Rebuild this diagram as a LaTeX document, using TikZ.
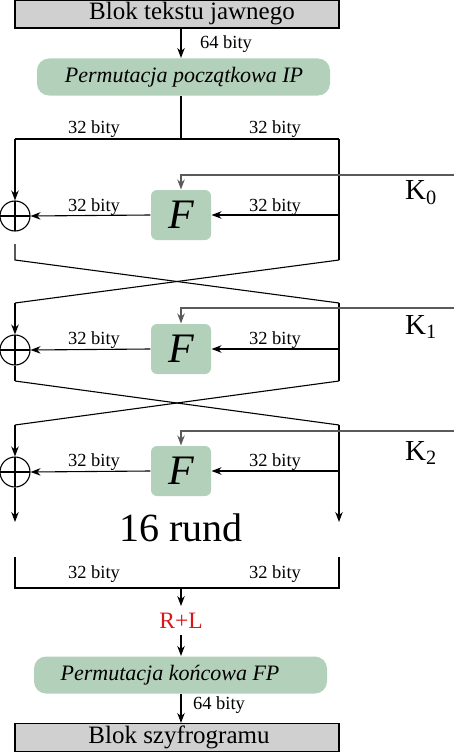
\documentclass[tikz,border=0pt]{standalone}
\usepackage{fontspec}
\setmainfont{Liberation Serif}
\usetikzlibrary{arrows.meta}
\definecolor{boxgreen}{HTML}{B3D0BA}
\definecolor{boxgray}{HTML}{D0D0D0}
\definecolor{keygray}{HTML}{5A5A5A}
\definecolor{rlred}{HTML}{D81818}
\begin{document}
\begin{tikzpicture}[x=1pt,y=-1pt, line width=1.1pt, >={Stealth[length=10pt,width=7.5pt]},
  graybox/.style={draw, fill=boxgray, minimum width=324pt, minimum height=28pt, inner sep=0pt},
  permbox/.style={fill=boxgreen, rounded corners=12pt, minimum width=293pt, minimum height=37pt, inner sep=0pt},
  fbox/.style={fill=boxgreen, rounded corners=6pt, minimum width=60pt, minimum height=50pt, inner sep=0pt, font=\fontsize{42}{46}\selectfont\itshape},
  xor/.style={circle, draw, minimum size=30pt, inner sep=0pt,
    path picture={\draw (path picture bounding box.north) -- (path picture bounding box.south)
      (path picture bounding box.west) -- (path picture bounding box.east);}},
  bigtxt/.style={font=\fontsize{25}{28}\selectfont, inner sep=0pt},
  permtxt/.style={font=\fontsize{22}{25}\selectfont\itshape, inner sep=0pt},
  lbl/.style={font=\fontsize{18.5}{20}\selectfont, inner sep=0pt},
  keytxt/.style={font=\fontsize{29}{32}\selectfont, inner sep=0pt},
  keyl/.style={draw=keygray},
  ]
\useasboundingbox (0,0) rectangle (454,752);
\coordinate (cx) at (181,0);
% top
\node[graybox] (plain) at (177,14) {};
\node[bigtxt] (plaintxt) at (192,14) {Blok tekstu jawnego};
\node[permbox] (ip) at (183.5,77) {};
\node[permtxt] (iptxt) at (184,77) {Permutacja początkowa IP};
\draw[->] (plain.south -| cx) -- (ip.north -| cx);
\node[lbl] (l64a) at (226,44) {64 bity};
\coordinate (tl) at (15,139);
\coordinate (tr) at (339,139);
\draw (ip.south -| cx) -- (cx |- tl);
\draw (tl) -- (tr);
\node[lbl] at (94,129) {32 bity};
\node[lbl] at (275,129) {32 bity};
% round 1
\node[xor] (x1) at (15,216) {};
\node[fbox] (f1) at (181,215) {F};
\coordinate (k1) at (454,175);
\coordinate (a1s) at (15,244);
\coordinate (a1) at (15,260);
\coordinate (b1) at (339,260);
\coordinate (a2) at (15,303);
\coordinate (b2) at (339,303);
\draw[->] (tl) -- (x1.north);
\draw (tr) -- (b1);
\draw[->] (tr |- f1) -- (f1.east);
\draw[->] (f1.west) -- (x1.east);
\draw[->, keyl] (k1) -- (f1.north |- k1) -- (f1.north);
\node[keytxt] (kt0) at (421,193) {K\textsubscript{0}};
\node[lbl] at (94,207) {32 bity};
\node[lbl] at (275,207) {32 bity};
\draw (a1s) -- (a1) -- (b2);
\draw (b1) -- (a2);
% round 2
\node[xor] (x2) at (15,350) {};
\node[fbox] (f2) at (181,349) {F};
\coordinate (k2) at (454,308);
\coordinate (a2e) at (15,381);
\coordinate (b2e) at (339,381);
\coordinate (a3) at (15,425);
\coordinate (b3) at (339,425);
\draw[->] (a2) -- (x2.north);
\draw (x2.south) -- (a2e);
\draw (b2) -- (b2e);
\draw[->] (b2 |- f2) -- (f2.east);
\draw[->] (f2.west) -- (x2.east);
\draw[->, keyl] (k2) -- (f2.north |- k2) -- (f2.north);
\node[keytxt] (kt1) at (421,327) {K\textsubscript{1}};
\node[lbl] at (94,340) {32 bity};
\node[lbl] at (275,340) {32 bity};
\draw (a2e) -- (b3);
\draw (b2e) -- (a3);
% round 3
\node[xor] (x3) at (15,472) {};
\node[fbox] (f3) at (181,471) {F};
\coordinate (k3) at (454,431);
\coordinate (a3e) at (15,522);
\coordinate (b3e) at (339,522);
\draw[->] (a3) -- (x3.north);
\draw[->] (x3.south) -- (a3e);
\draw[->] (b3) -- (b3e);
\draw[->] (b3 |- f3) -- (f3.east);
\draw[->] (f3.west) -- (x3.east);
\draw[->, keyl] (k3) -- (f3.north |- k3) -- (f3.north);
\node[keytxt] (kt2) at (421,453) {K\textsubscript{2}};
\node[lbl] at (94,462) {32 bity};
\node[lbl] at (275,462) {32 bity};
\node[font=\fontsize{40}{44}\selectfont, inner sep=0pt] (rund) at (181,528) {16 rund};
% bottom
\coordinate (bl) at (15,557);
\coordinate (br) at (339,557);
\coordinate (bl2) at (15,588);
\coordinate (br2) at (339,588);
\draw (bl) -- (bl2) -- (br2) -- (br);
\node[lbl] at (94,574) {32 bity};
\node[lbl] at (275,574) {32 bity};
\node[font=\fontsize{23.5}{26}\selectfont, text=rlred, inner sep=0pt] (rl) at (181,621) {R+L};
\coordinate (rl1) at (181,606);
\coordinate (rl2) at (181,635);
\draw[->] (cx |- bl2) -- (rl1);
\node[permbox] (fp) at (180.5,675) {};
\node[permtxt] (fptxt) at (170,675) {Permutacja końcowa FP};
\draw[->] (rl2) -- (fp.north -| cx);
\node[graybox] (cipher) at (177,737.5) {};
\node[bigtxt] (ciphertxt) at (179,737) {Blok szyfrogramu};
\draw[->] (fp.south -| cx) -- (cipher.north -| cx);
\node[lbl] (l64b) at (219,705) {64 bity};
\end{tikzpicture}
\end{document}
